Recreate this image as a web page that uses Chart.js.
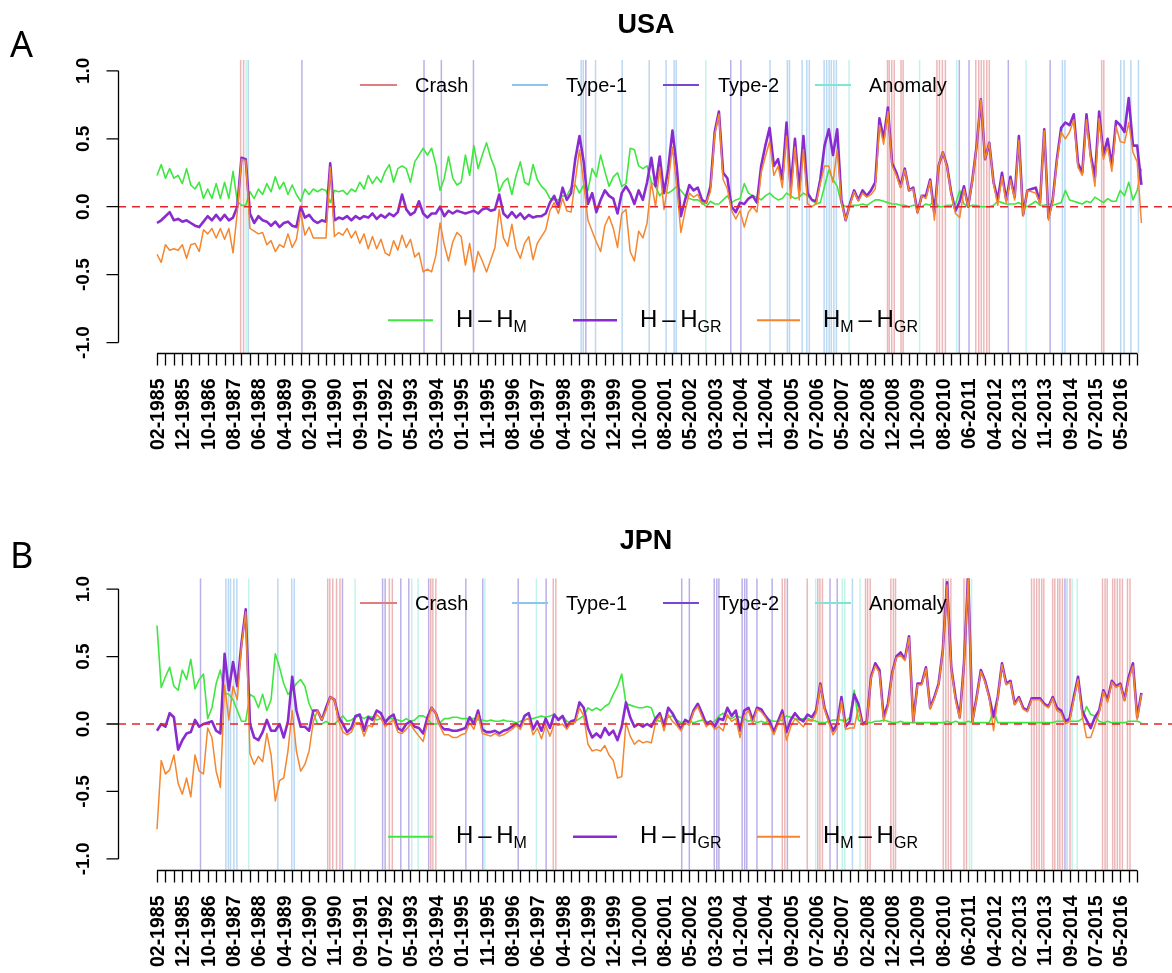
<!DOCTYPE html>
<html>
<head>
<meta charset="utf-8">
<title>USA / JPN</title>
<script src="https://cdn.jsdelivr.net/npm/chart.js@4.4.1/dist/chart.umd.min.js"></script>
<style>
  html, body { margin: 0; padding: 0; background: #fff; }
  #wrap { position: relative; width: 1172px; height: 973px; }
  #wrap canvas { position: absolute; left: 0; }
</style>
</head>
<body>
<div id="wrap">
  <canvas id="usa" width="1172" height="486" style="top:0"></canvas>
  <canvas id="jpn" width="1172" height="487" style="top:486px"></canvas>
</div>
<script>
// one label every 6 periods, one tick every 2
const periodLabels = ['02-1985','12-1985','10-1986','08-1987','06-1988','04-1989','02-1990','11-1990','09-1991','07-1992',
  '05-1993','03-1994','01-1995','11-1995','08-1996','06-1997','04-1998','02-1999','12-1999','10-2000',
  '08-2001','05-2002','03-2003','01-2004','11-2004','09-2005','07-2006','05-2007','02-2008','12-2008',
  '10-2009','08-2010','06-2011','04-2012','02-2013','11-2013','09-2014','07-2015','05-2016'];
const labelStep = 6;
const tickStep = 2;
const lastTick = 232;
const yTickValues = [-1, -0.5, 0, 0.5, 1];

// USA: H - H_M
const usaHM = [
  0.23,0.31,0.21,0.28,0.21,0.23,0.17,0.28,0.16,0.13, 0.18,0.06,0.13,0.06,0.17,0.06,0.18,0.06,0.26,0.04,
  0.01,0.01,0.11,0.06,0.13,0.09,0.17,0.11,0.22,0.13, 0.18,0.09,0.16,0.09,0.04,0.13,0.09,0.13,0.11,0.13,
  0.12,0.03,0.12,0.11,0.12,0.09,0.13,0.11,0.18,0.13, 0.23,0.17,0.22,0.18,0.26,0.31,0.18,0.28,0.30,0.28,
  0.18,0.33,0.38,0.43,0.38,0.43,0.31,0.12,0.21,0.37, 0.21,0.16,0.18,0.38,0.23,0.45,0.28,0.38,0.47,0.36,
  0.28,0.11,0.18,0.21,0.09,0.23,0.33,0.18,0.16,0.31, 0.20,0.15,0.12,0.06,0.05,0.05,0.08,0.08,0.14,0.16,
  0.10,0.16,0.12,0.28,0.22,0.38,0.26,0.15,0.22,0.25, 0.15,0.17,0.43,0.42,0.30,0.28,0.30,0.18,0.15,0.08,
  0.12,0.10,0.12,0.15,0.12,0.08,0.06,0.05,0.05,0.03, 0.00,0.04,0.02,0.02,0.05,0.08,0.03,0.05,0.06,0.17,
  0.10,0.08,0.07,0.05,0.08,0.10,0.07,0.05,0.06,0.10, 0.08,0.06,0.07,0.10,0.08,0.05,0.02,0.03,0.15,0.27,
  0.20,0.15,0.02,0.00,0.01,0.01,0.01,0.02,0.01,0.03, 0.05,0.05,0.04,0.03,0.02,0.02,0.01,0.01,0.00,0.01,
  0.01,0.00,0.02,0.01,0.05,0.00,0.00,0.01,0.01,0.02, 0.12,0.02,0.00,0.01,0.01,0.00,0.00,0.00,0.01,0.04,
  0.03,0.02,0.02,0.02,0.03,0.01,0.00,0.02,0.04,0.01, 0.01,0.02,0.01,0.02,0.03,0.12,0.05,0.04,0.03,0.02,
  0.04,0.03,0.07,0.05,0.03,0.06,0.04,0.04,0.12,0.08, 0.18,0.05,0.12,0.28
];
// USA: H - H_GR
const usaHGR = [
  -0.12,-0.10,-0.07,-0.04,-0.10,-0.09,-0.11,-0.10,-0.12,-0.14, -0.15,-0.11,-0.07,-0.10,-0.06,-0.10,-0.06,-0.10,-0.08,0.00,
  0.36,0.35,-0.05,-0.12,-0.07,-0.10,-0.11,-0.14,-0.11,-0.15, -0.12,-0.11,-0.14,-0.15,0.00,-0.08,-0.06,-0.10,-0.12,-0.10,
  -0.11,0.32,-0.10,-0.08,-0.09,-0.07,-0.10,-0.07,-0.09,-0.07, -0.08,-0.05,-0.09,-0.06,-0.08,-0.05,-0.07,-0.04,0.09,-0.02,
  -0.06,-0.04,0.04,-0.05,-0.08,-0.05,-0.05,0.00,-0.07,-0.03, -0.05,-0.03,-0.04,-0.05,-0.04,-0.03,-0.05,-0.02,-0.01,-0.03,
  -0.02,0.09,-0.05,-0.08,-0.04,-0.08,-0.05,-0.09,-0.06,-0.08, -0.07,-0.07,-0.05,0.03,0.08,0.00,0.14,0.05,0.10,0.35,
  0.52,0.33,0.02,0.10,-0.04,0.05,0.12,0.08,0.06,-0.05, 0.10,0.15,0.10,0.02,0.12,0.05,0.18,0.36,0.15,0.37,
  0.10,0.28,0.56,0.30,-0.07,0.05,0.16,0.12,0.14,0.05, 0.03,0.15,0.55,0.70,0.25,0.21,0.00,-0.04,0.03,0.02,
  0.06,0.08,0.03,0.30,0.45,0.58,0.30,0.35,0.20,0.62, 0.14,0.50,0.12,0.52,0.10,0.05,0.04,0.20,0.45,0.57,
  0.38,0.57,0.05,-0.10,0.02,0.12,0.05,0.12,0.08,0.12, 0.18,0.65,0.50,0.73,0.32,0.25,0.15,0.28,0.12,0.14,
  -0.04,0.08,0.08,0.20,-0.05,0.30,0.40,0.30,0.10,-0.03, 0.04,0.15,0.00,0.20,0.45,0.79,0.35,0.47,0.18,0.05,
  0.25,0.05,0.22,0.07,0.52,-0.06,0.12,0.13,0.14,0.03, 0.57,-0.08,0.05,0.35,0.58,0.62,0.60,0.68,0.32,0.25,
  0.68,0.38,0.22,0.70,0.38,0.50,0.30,0.63,0.60,0.55, 0.80,0.45,0.45,0.16
];
// JPN: H - H_M
const jpnHM = [
  0.73,0.27,0.35,0.42,0.28,0.25,0.40,0.33,0.48,0.26, 0.33,0.37,0.04,0.12,0.30,0.40,0.23,0.22,0.18,0.10,
  0.02,0.02,0.22,0.20,0.12,0.22,0.10,0.18,0.52,0.42, 0.30,0.22,0.25,0.30,0.33,0.28,0.15,0.08,0.00,0.00,
  0.02,0.00,0.00,0.03,0.06,0.02,0.03,0.05,0.06,0.04, 0.06,0.05,0.03,0.04,0.03,0.04,0.04,0.03,0.02,0.04,
  0.02,0.03,0.06,0.06,0.04,0.00,0.00,0.01,0.04,0.04, 0.05,0.05,0.04,0.04,0.04,0.04,0.03,0.03,0.02,0.03,
  0.02,0.02,0.03,0.02,0.02,0.01,0.02,0.03,0.04,0.04, 0.05,0.06,0.05,0.06,0.07,0.04,0.06,0.02,0.01,0.02,
  0.04,0.06,0.12,0.10,0.12,0.10,0.13,0.15,0.22,0.28, 0.37,0.15,0.14,0.13,0.12,0.12,0.13,0.12,0.03,0.02,
  0.03,0.05,0.06,0.03,0.01,0.02,0.02,0.01,0.02,0.03, 0.02,0.01,0.02,0.06,0.08,0.05,0.04,0.06,0.05,0.04,
  0.02,0.03,0.01,0.02,0.01,0.03,0.02,0.02,0.03,0.06, 0.05,0.04,0.03,0.04,0.04,0.03,0.02,0.01,0.01,0.02,
  0.03,0.03,0.03,0.02,0.05,0.25,0.03,0.01,0.01,0.01, 0.02,0.02,0.03,0.02,0.01,0.01,0.02,0.01,0.01,0.01,
  0.01,0.01,0.01,0.01,0.01,0.01,0.01,0.02,0.01,0.02, 0.01,0.01,0.02,0.01,0.01,0.01,0.01,0.01,0.10,0.01,
  0.01,0.01,0.01,0.01,0.01,0.01,0.01,0.01,0.01,0.01, 0.01,0.01,0.01,0.02,0.02,0.02,0.02,0.02,0.02,0.04,
  0.13,0.07,0.06,0.02,0.01,0.02,0.01,0.01,0.01,0.01, 0.02,0.02,0.02,0.01
];
// JPN: H - H_GR
const jpnHGR = [
  -0.05,0.00,-0.02,0.08,0.05,-0.19,-0.12,-0.07,-0.06,0.03, -0.02,0.00,0.01,0.02,-0.05,-0.07,0.52,0.25,0.46,0.28,
  0.60,0.85,0.00,-0.10,-0.12,-0.06,0.03,-0.05,-0.05,0.00, -0.10,0.02,0.35,0.10,-0.02,-0.02,-0.05,0.10,0.10,0.03,
  0.12,0.20,0.18,0.05,0.00,-0.06,-0.03,0.06,0.07,-0.05, 0.05,0.03,0.10,0.08,0.01,0.05,0.07,-0.03,-0.05,0.00,
  0.02,-0.02,-0.03,-0.07,0.05,0.12,0.08,-0.01,-0.04,-0.04, -0.05,-0.05,-0.04,-0.03,0.05,0.00,0.10,-0.04,-0.06,-0.06,
  -0.05,-0.07,-0.05,-0.04,-0.02,0.00,-0.02,0.06,0.08,-0.04, 0.02,-0.05,0.04,-0.03,0.07,0.03,0.06,-0.02,0.02,0.03,
  0.16,0.12,-0.03,-0.10,-0.07,-0.10,-0.03,-0.08,-0.05,-0.12, -0.02,0.16,0.05,-0.02,0.00,-0.02,0.00,-0.02,0.04,0.08,
  -0.02,0.12,0.08,0.02,-0.04,0.03,0.01,0.10,0.15,0.08, 0.00,0.02,-0.02,0.04,0.03,0.12,0.06,0.10,-0.05,0.10,
  0.12,0.03,0.12,0.11,0.06,0.02,-0.06,0.02,0.10,-0.06, 0.03,0.08,0.04,0.02,0.07,0.05,0.10,0.30,0.12,0.03,
  -0.05,0.00,0.20,-0.02,0.02,0.22,0.15,0.00,0.02,0.35, 0.45,0.40,0.05,0.15,0.38,0.50,0.53,0.48,0.65,0.02,
  0.30,0.30,0.42,0.12,0.20,0.30,0.55,1.05,0.42,0.20, 0.05,0.45,1.10,0.02,0.20,0.40,0.32,0.20,0.05,0.20,
  0.45,0.30,0.32,0.15,0.20,0.12,0.10,0.19,0.19,0.19, 0.15,0.13,0.20,0.12,0.10,0.02,0.04,0.20,0.35,0.10,
  0.03,-0.03,0.05,0.10,0.25,0.18,0.32,0.28,0.30,0.18, 0.35,0.45,0.05,0.23
];

// event dates, in period units
const usaCrash = [19.8,20.5,172.9,173.3,173.9,174.5,176.1,176.6,184.6,185.2,185.9,186.6,193.8,194.5,195.1,195.7,196.4,197.0,223.6,224.1];
const usaType1 = [21.6,100.4,100.9,103.8,110.1,116.5,120.5,122.4,122.9,145.1,149.2,149.7,152.7,153.8,154.4,157.9,158.5,159.1,159.6,160.2,160.8,214.3,214.9,228.1,228.9,230.5,232.3];
const usaType2 = [34.3,63.2,67.3,74.9,101.5,135.8,138.2,189.9,192.2,201.5,211.4];
const usaAnomaly = [21.1,129.9,163.8,180.5,189.3,205.7];

const jpnCrash = [40.4,40.9,41.6,42.5,43.3,55.0,55.7,64.8,65.3,66.0,93.8,94.4,148.0,148.6,153.9,156.4,156.9,157.5,167.7,168.2,168.8,
  173.7,174.3,174.8,186.1,186.7,187.3,187.9,191.0,191.6,207.0,207.6,208.2,208.8,209.4,209.9,212.0,212.5,213.2,213.7,214.3,216.1,
  223.8,224.4,224.9,226.2,226.7,227.3,227.9,228.5,229.7,230.3];
const jpnType1 = [16.3,16.9,17.4,18.2,18.9,28.6,31.9,32.5,164.6,215.4];
const jpnType2 = [10.3,43.9,53.4,54.0,57.7,59.6,64.3,73.1,77.1,85.5,92.1,124.2,126.0,131.9,132.5,133.0,138.5,139.1,139.6,142.0,145.6,149.2,159.3,161.0,214.9];
const jpnAnomaly = [21.7,46.9,60.3,61.8,77.6,89.8,155.9,162.2,162.8,166.4,192.3,192.8,216.6,217.8];

const COL = {
  hm: '#40e640', hgr: '#8a2bd0', mgr: '#f5862e',
  crash: '#dc7f80', type1: '#8bc6ea', type2: '#7846d0', anomaly: '#7fe6d6',
  crashV: 'rgba(212,95,98,0.45)', type1V: 'rgba(120,180,232,0.5)',
  type2V: 'rgba(105,80,205,0.45)', anomalyV: 'rgba(120,230,210,0.45)'
};
const FONT = '"Liberation Sans", Arial, Helvetica, sans-serif';
const DASH = '\u2009\u2013\u2009';

const toXY = vals => vals.map((v, i) => ({ x: i, y: v }));
// H_M - H_GR = (H - H_GR) - (H - H_M)
const hmMinusHgr = (hgr, hm) => hgr.map((v, i) => Math.round((v - hm[i]) * 100) / 100);

function richText(ctx, x, base, parts, size) {
  let cx = x;
  parts.forEach(([txt, sub]) => {
    ctx.font = `${sub ? 16 : size}px ${FONT}`;
    ctx.fillText(txt, cx, base + (sub ? 5 : 0));
    cx += ctx.measureText(txt).width;
  });
}

const rPanel = {
  id: 'rPanel',
  beforeDatasetsDraw(chart, args, o) {
    const { ctx, chartArea: ca, scales: { x } } = chart;
    ctx.save();
    ctx.beginPath();
    ctx.rect(ca.left, ca.top, ca.width, ca.height);
    ctx.clip();
    ctx.lineWidth = 1.5;
    o.events.forEach(ev => {
      ctx.strokeStyle = ev.color;
      ev.at.forEach(k => {
        const px = x.getPixelForValue(k);
        ctx.beginPath();
        ctx.moveTo(px, ca.top);
        ctx.lineTo(px, ca.bottom);
        ctx.stroke();
      });
    });
    ctx.restore();
  },
  afterDatasetsDraw(chart) {
    const { ctx, chartArea: ca, scales: { y } } = chart;
    const y0 = y.getPixelForValue(0);
    ctx.save();
    ctx.strokeStyle = '#e3262b';
    ctx.lineWidth = 1.5;
    ctx.setLineDash([8, 6]);
    ctx.beginPath();
    ctx.moveTo(ca.left, y0);
    ctx.lineTo(ca.right, y0);
    ctx.stroke();
    ctx.restore();
  },
  afterDraw(chart, args, o) {
    const { ctx, chartArea: ca, scales: { x, y } } = chart;
    ctx.save();
    ctx.fillStyle = '#000';
    ctx.strokeStyle = '#000';
    ctx.lineWidth = 1.3;

    // y axis
    const ax = Math.round(ca.left) + 0.5;
    ctx.beginPath();
    ctx.moveTo(ax, y.getPixelForValue(-1));
    ctx.lineTo(ax, y.getPixelForValue(1));
    yTickValues.forEach(v => {
      const py = y.getPixelForValue(v);
      ctx.moveTo(ax, py);
      ctx.lineTo(ax - 12, py);
    });
    ctx.stroke();
    ctx.font = `bold 19px ${FONT}`;
    ctx.textAlign = 'center';
    ctx.textBaseline = 'alphabetic';
    yTickValues.forEach(v => {
      ctx.save();
      ctx.translate(89, y.getPixelForValue(v));
      ctx.rotate(-Math.PI / 2);
      ctx.fillText(v.toFixed(1), 0, 0);
      ctx.restore();
    });

    // x axis
    const by = Math.round(ca.bottom) + 0.5;
    ctx.beginPath();
    ctx.moveTo(x.getPixelForValue(0), by);
    ctx.lineTo(x.getPixelForValue(lastTick), by);
    for (let k = 0; k <= lastTick; k += tickStep) {
      const px = Math.round(x.getPixelForValue(k)) + 0.5;
      ctx.moveTo(px, by);
      ctx.lineTo(px, by + 12);
    }
    ctx.stroke();
    ctx.font = `bold 19.5px ${FONT}`;
    ctx.textAlign = 'right';
    periodLabels.forEach((lab, j) => {
      ctx.save();
      ctx.translate(x.getPixelForValue(j * labelStep), by + 25);
      ctx.rotate(-Math.PI / 2);
      ctx.fillText(lab, 0, 7);
      ctx.restore();
    });

    // title and panel letter
    ctx.textAlign = 'center';
    ctx.font = `bold 27px ${FONT}`;
    ctx.fillText(o.title, 646, o.titleY);
    ctx.textAlign = 'left';
    ctx.font = '36px "Noto Sans", "Open Sans", sans-serif';
    ctx.fillText(o.letter, 10, o.letterY);

    // event legend
    const ly = y.getPixelForValue(0.896);
    [
      { t: 'Crash', c: COL.crash, x1: 360, x2: 397, tx: 415 },
      { t: 'Type-1', c: COL.type1, x1: 512, x2: 548, tx: 566 },
      { t: 'Type-2', c: COL.type2, x1: 663, x2: 699, tx: 718 },
      { t: 'Anomaly', c: COL.anomaly, x1: 815, x2: 851, tx: 869 }
    ].forEach(it => {
      ctx.strokeStyle = it.c;
      ctx.lineWidth = 2;
      ctx.beginPath();
      ctx.moveTo(it.x1, ly);
      ctx.lineTo(it.x2, ly);
      ctx.stroke();
      ctx.font = `20px ${FONT}`;
      ctx.fillText(it.t, it.tx, ly + 7.3);
    });

    // series legend
    const sy = y.getPixelForValue(-0.836);
    [
      { c: COL.hm, w: 2, x1: 388, x2: 433, tx: 456, parts: [['H' + DASH + 'H', 0], ['M', 1]] },
      { c: COL.hgr, w: 2.5, x1: 573, x2: 617, tx: 640, parts: [['H' + DASH + 'H', 0], ['GR', 1]] },
      { c: COL.mgr, w: 2, x1: 757, x2: 800, tx: 823, parts: [['H', 0], ['M', 1], [DASH + 'H', 0], ['GR', 1]] }
    ].forEach(it => {
      ctx.strokeStyle = it.c;
      ctx.lineWidth = it.w;
      ctx.beginPath();
      ctx.moveTo(it.x1, sy);
      ctx.lineTo(it.x2, sy);
      ctx.stroke();
      richText(ctx, it.tx, sy + 6.5, it.parts, 24);
    });
    ctx.restore();
  }
};

function makePanel(id, pad, hm, hgr, events, meta) {
  const mgr = hmMinusHgr(hgr, hm);
  return new Chart(document.getElementById(id), {
    type: 'line',
    data: {
      datasets: [
        { label: 'H_M - H_GR', data: toXY(mgr), borderColor: COL.mgr, borderWidth: 1.5 },
        { label: 'H - H_GR', data: toXY(hgr), borderColor: COL.hgr, borderWidth: 2.6 },
        { label: 'H - H_M', data: toXY(hm), borderColor: COL.hm, borderWidth: 1.6 }
      ]
    },
    options: {
      responsive: false,
      animation: false,
      events: [],
      layout: { padding: pad },
      elements: { point: { radius: 0 }, line: { tension: 0, borderJoinStyle: 'round' } },
      scales: {
        x: { type: 'linear', min: -9.23, max: 240.24, display: false },
        y: { min: -1.08, max: 1.08, display: false }
      },
      plugins: {
        legend: { display: false },
        tooltip: { enabled: false },
        rPanel: { events, ...meta }
      }
    },
    plugins: [rPanel]
  });
}

makePanel('usa', { left: 118, right: 0, top: 60, bottom: 132.6 }, usaHM, usaHGR, [
  { color: COL.crashV, at: usaCrash },
  { color: COL.type1V, at: usaType1 },
  { color: COL.type2V, at: usaType2 },
  { color: COL.anomalyV, at: usaAnomaly }
], { title: 'USA', titleY: 33, letter: 'A', letterY: 57 });

makePanel('jpn', { left: 118, right: 0, top: 92.3, bottom: 103.3 }, jpnHM, jpnHGR, [
  { color: COL.crashV, at: jpnCrash },
  { color: COL.type1V, at: jpnType1 },
  { color: COL.type2V, at: jpnType2 },
  { color: COL.anomalyV, at: jpnAnomaly }
], { title: 'JPN', titleY: 63, letter: 'B', letterY: 82 });
</script>
</body>
</html>
